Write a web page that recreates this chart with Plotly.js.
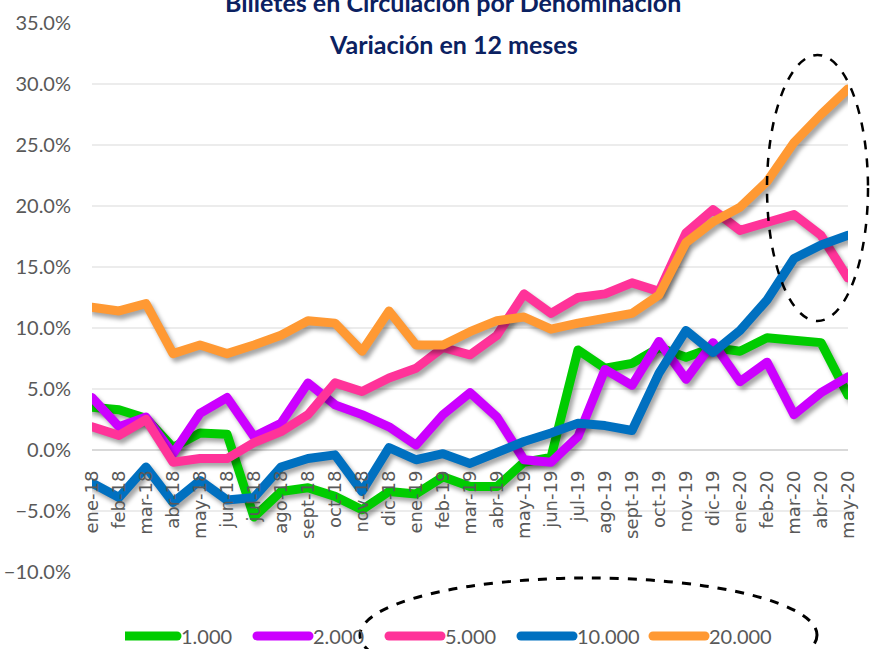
<!DOCTYPE html>
<html><head><meta charset="utf-8">
<script src="https://cdn.plot.ly/plotly-3.0.1.min.js"></script>
<style>
body{margin:0;background:#fff}
#chart{width:872px;height:649px}
.scatterlayer .trace .js-line{filter:drop-shadow(3px 4px 2px rgba(0,0,0,0.35));stroke-linejoin:round;stroke-linecap:round}
.legendlines path{stroke-linecap:round}
</style></head><body><div id="chart"></div><script>
const months = ["ene-18","feb-18","mar-18","abr-18","may-18","jun-18","jul-18","ago-18","sept-18","oct-18","nov-18","dic-18",
"ene-19","feb-19","mar-19","abr-19","may-19","jun-19","jul-19","ago-19","sept-19","oct-19","nov-19","dic-19",
"ene-20","feb-20","mar-20","abr-20","may-20"];
const seriesNames = ["1.000","2.000","5.000","10.000","20.000"];
const s1000 = [3.5,3.3,2.6,0.2,1.4,1.3,-5.5,-3.4,-3.1,-3.8,-4.9,-3.4,-3.6,-2.2,-3.0,-3.0,-1.0,-0.6,8.2,6.7,7.1,8.4,7.6,8.4,8.1,9.2,9.0,8.8,4.5];
const s2000 = [4.3,1.9,2.7,-0.3,3.0,4.3,1.1,2.2,5.5,3.7,2.9,1.9,0.4,2.9,4.7,2.7,-0.8,-1.0,1.1,6.6,5.3,8.9,5.8,8.8,5.6,7.2,2.9,4.7,6.0];
const s5000 = [1.9,1.2,2.5,-1.0,-0.7,-0.7,0.6,1.5,2.9,5.5,4.8,5.9,6.7,8.4,7.8,9.4,12.8,11.2,12.5,12.8,13.7,13.0,17.8,19.7,18.0,18.6,19.3,17.6,14.1];
const s10000 = [-2.7,-3.9,-1.4,-4.3,-2.5,-4.1,-3.9,-1.4,-0.7,-0.4,-3.4,0.2,-0.8,-0.3,-1.1,-0.2,0.7,1.4,2.2,2.0,1.6,6.3,9.8,8.0,9.8,12.3,15.7,16.8,17.6];
const s20000 = [11.7,11.4,12.0,7.9,8.6,7.9,8.6,9.4,10.6,10.4,8.1,11.4,8.6,8.6,9.7,10.6,10.9,9.9,10.4,10.8,11.2,12.7,17.0,18.7,19.9,22.0,25.2,27.5,29.6];
const colors = ["#00CC00","#CC00FF","#FF3399","#0070C0","#FF9933"];
const titleLine1 = "Billetes en Circulación por Denominación";
const titleLine2 = "Variación en 12 meses";

const allSeries = [s1000,s2000,s5000,s10000,s20000];
const data = allSeries.map((s,i)=>({
  type:'scatter', mode:'lines', x:months, y:s, name:seriesNames[i],
  line:{color:colors[i], width:9}, hoverinfo:'skip'
}));

const narrow = 'Lato, "DejaVu Sans Condensed", sans-serif';
const layout = {
  width:872, height:649,
  margin:{l:92, r:24, t:23, b:77, autoexpand:false},
  paper_bgcolor:'#ffffff', plot_bgcolor:'#ffffff',
  showlegend:true,
  legend:{orientation:'h', x:(125-92)/756, xanchor:'left', y:(572-636)/549, yanchor:'middle',
    bgcolor:'rgba(0,0,0,0)', font:{family:narrow, size:20, color:'#595959'},
    itemwidth:46, entrywidth:71, entrywidthmode:'pixels', tracegroupgap:0},
  xaxis:{type:'category', anchor:'free', position:10/45, showgrid:false, showline:false, zeroline:false,
    ticks:'', tickangle:-90, ticklabelstandoff:16,
    tickfont:{family:'"DejaVu Sans", sans-serif', size:18, color:'#595959'}, fixedrange:true},
  yaxis:{range:[-10,35], dtick:5, tick0:0, tickformat:'.1f', ticksuffix:'%',
    showgrid:true, gridcolor:'#ececec', gridwidth:2, zeroline:true, zerolinecolor:'#d9d9d9', zerolinewidth:2,
    showline:false, ticks:'', ticklabelstandoff:20,
    tickfont:{family:narrow, size:20, color:'#595959'}, fixedrange:true},
  annotations:[
    {xref:'paper', yref:'paper', x:0.478, y:(572-2)/549, xanchor:'center', yanchor:'middle', showarrow:false,
     text:'<b>'+titleLine1+'</b>', font:{family:narrow, size:25, color:'#0B2161'}},
    {xref:'paper', yref:'paper', x:0.478, y:(572-44)/549, xanchor:'center', yanchor:'middle', showarrow:false,
     text:'<b>'+titleLine2+'</b>', font:{family:narrow, size:25, color:'#0B2161'}}
  ],
  shapes:[
    {type:'circle', xref:'paper', yref:'paper', x0:(767-92)/756, x1:(868-92)/756, y0:(572-321)/549, y1:(572-55)/549,
     line:{color:'#000000', width:2.5, dash:'dash'}},
    {type:'circle', xref:'paper', yref:'paper', x0:(360-92)/756, x1:(817-92)/756, y0:(572-692)/549, y1:(572-578)/549,
     line:{color:'#000000', width:3, dash:'dash'}}
  ]
};
Plotly.newPlot('chart', data, layout, {displayModeBar:false, staticPlot:true}).then(gd=>{
  gd.querySelectorAll('.legendlines path').forEach(p=>{ p.setAttribute('d','M0,0h52'); });
});
</script></body></html>
